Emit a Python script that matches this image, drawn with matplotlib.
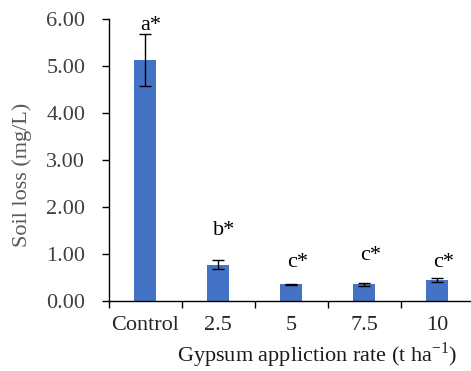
import numpy as np
import matplotlib
matplotlib.use("Agg")
import matplotlib.pyplot as plt

# data
categories = ["Control", "2.5", "5", "7.5", "10"]
soil_loss = [5.13, 0.77, 0.35, 0.35, 0.44]
soil_err = [0.55, 0.09, 0.01, 0.04, 0.04]
letters = ["a*", "b*", "c*", "c*", "c*"]
letter_y = [5.77, 1.40, 0.72, 0.87, 0.72]

plt.rcParams["font.family"] = ["Liberation Serif", "DejaVu Serif"]

fig = plt.figure(figsize=(4.71, 3.71), dpi=100)
ax = fig.add_axes([0.231, 0.189, 0.775, 0.760])

x = np.arange(len(categories))
ax.bar(x, soil_loss, width=0.3, color="#4472C4", yerr=soil_err,
       error_kw=dict(ecolor="black", elinewidth=1.0, capsize=4, capthick=1.0))

for xi, t, ty in zip(x, letters, letter_y):
    ax.text(xi + 0.08, ty, t, ha="center", va="baseline", fontsize=16, color="black")

ax.set_xlim(-0.5, len(categories) - 0.5)
ax.set_ylim(0, 6)
ax.set_yticks(np.arange(0, 6.01, 1.0))
ax.set_yticklabels([f"{v:.2f}" for v in np.arange(0, 6.01, 1.0)])
ax.set_xticks(x)
ax.set_xticklabels(categories)
ax.set_xticks(np.arange(-0.5, len(categories)), minor=True)
ax.tick_params(axis="x", which="major", length=0, pad=11, labelsize=16, labelcolor="#262626")
ax.tick_params(axis="x", which="minor", length=5, width=1, direction="out")
ax.tick_params(axis="y", length=5, width=1, direction="out", labelsize=16,
               labelcolor="#404040", pad=12)

for s in ["top", "right"]:
    ax.spines[s].set_visible(False)
for s in ["left", "bottom"]:
    ax.spines[s].set_linewidth(1.0)

ax.set_ylabel("Soil loss (mg/L)", fontsize=16, color="#595959")
ax.yaxis.set_label_coords(-0.21, 0.447)
ax.set_xlabel("Gypsum appliction rate (t ha$^{\\mathregular{-1}}$)", fontsize=16,
              color="#1a1a1a")
ax.xaxis.set_label_coords(0.57, -0.14)

fig.savefig("out.png", dpi=100)
